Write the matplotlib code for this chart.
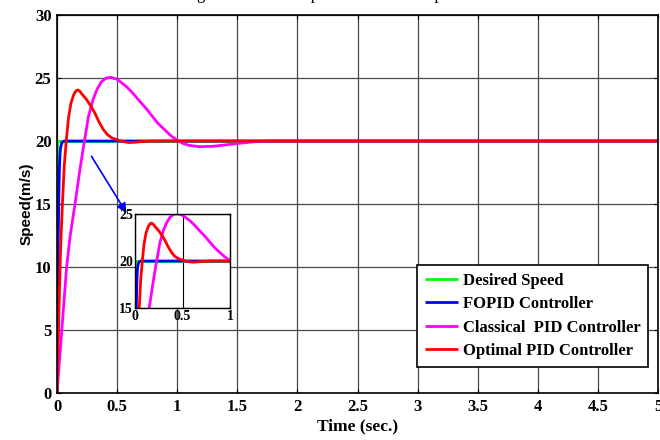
import matplotlib
matplotlib.use("Agg")
import matplotlib.pyplot as plt

# ---- data ----
desired_t = [0, 0, 5]
desired_v = [0, 20, 20]

fopid_t = [0, 0.005, 0.01, 0.015, 0.02, 0.025, 0.03, 0.04, 0.05, 0.06, 5.0]
fopid_v = [0, 6, 12, 15.5, 17.8, 19.0, 19.5, 19.85, 19.95, 20, 20]

classic_t = [0, 0.02, 0.04, 0.06, 0.08, 0.11, 0.15, 0.19, 0.228, 0.263, 0.3, 0.333, 0.37,
             0.41, 0.45, 0.5, 0.58, 0.63, 0.684, 0.74, 0.79, 0.84, 0.895, 0.95, 1.0, 1.05,
             1.1, 1.19, 1.3, 1.41, 1.52, 1.63, 1.75, 2.0, 5.0]
classic_v = [0, 2.5, 5, 7.5, 10, 12.5, 15, 17.7, 20, 22, 23.3, 24.1, 24.7,
             25.0, 25.05, 24.9, 24.3, 23.8, 23.2, 22.6, 22.0, 21.4, 20.9, 20.4, 20.05, 19.8,
             19.65, 19.55, 19.58, 19.7, 19.82, 19.93, 20.0, 20.0, 20.0]

optimal_t = [0, 0.01, 0.02, 0.03, 0.045, 0.06, 0.077, 0.095, 0.116, 0.14, 0.16, 0.175, 0.19,
             0.21, 0.245, 0.28, 0.316, 0.35, 0.386, 0.42, 0.456, 0.5, 0.55, 0.6, 0.65, 0.7,
             0.8, 1.0, 5.0]
optimal_v = [0, 4, 8, 11.5, 15, 18, 20, 21.8, 23.0, 23.7, 24.0, 24.05, 23.95,
             23.7, 23.3, 22.8, 22.2, 21.5, 20.9, 20.5, 20.25, 20.1, 19.95, 19.88, 19.9, 19.95,
             20.0, 20.0, 20.0]

labels = ["Desired Speed", "FOPID Controller", "Classical  PID Controller", "Optimal PID Controller"]
colors = ["#00ff00", "#0000ff", "#ff00ff", "#ff0000"]

x_ticks = [0, 0.5, 1, 1.5, 2, 2.5, 3, 3.5, 4, 4.5, 5]
x_ticklabels = ["0", "0.5", "1", "1.5", "2", "2.5", "3", "3.5", "4", "4.5", "5"]
y_ticks = [0, 5, 10, 15, 20, 25, 30]

inset_xticks = [0, 0.5, 1]
inset_xticklabels = ["0", "0.5", "1"]
inset_yticks = [15, 20, 25]

serif = "Liberation Serif"
sans = "Liberation Sans"

fig = plt.figure(figsize=(6.6, 4.4), dpi=100)
ax = fig.add_axes([57/660, 1 - 393/440, (658-57)/660, (393-15)/440])

series = [(desired_t, desired_v), (fopid_t, fopid_v), (classic_t, classic_v), (optimal_t, optimal_v)]
for (t, v), c, lab in zip(series, colors, labels):
    ax.plot(t, v, color=c, lw=2.0, label=lab, solid_capstyle="butt")

ax.set_xlim(0, 5)
ax.set_ylim(0, 30)
ax.set_xticks(x_ticks)
ax.set_xticklabels(x_ticklabels)
ax.set_yticks(y_ticks)
ax.grid(True, color="#4a4a4a", lw=0.9)
ax.tick_params(direction="in", length=3, top=True, right=True, width=0.8, pad=4)
for lab in ax.get_xticklabels() + ax.get_yticklabels():
    lab.set_fontfamily(serif)
    lab.set_fontweight("bold")
    lab.set_fontsize(12)
for s in ax.spines.values():
    s.set_linewidth(1.2)
    s.set_color("black")

ax.set_xlabel("Time (sec.)", fontfamily=serif, fontweight="bold", fontsize=12.5, labelpad=3)
ax.set_ylabel("Speed(m/s)", fontfamily=sans, fontweight="bold", fontsize=11, labelpad=1)

# cropped title (only descenders visible at top edge)
fig.text(146/660, 1 + 1.0/440, "Tracking of the desired speed controller response",
         fontfamily=serif, fontsize=12, ha="left", va="baseline")

leg = ax.legend(loc="upper left", bbox_to_anchor=(417/660, 1 - 265/440),
                bbox_transform=fig.transFigure, prop={"family": serif, "weight": "bold", "size": 12},
                frameon=True, fancybox=False, edgecolor="black", framealpha=1,
                handlelength=2.0, handletextpad=0.3, labelspacing=0.45, borderpad=0.45,
                borderaxespad=0)
leg.get_frame().set_linewidth(1.2)

# arrow to inset
ax.annotate("", xy=(0.59, 14.1), xytext=(0.275, 18.97),
            arrowprops=dict(arrowstyle="-|>", color="#0000ff", lw=1.2, mutation_scale=14))

# inset
ins = fig.add_axes([135/660, 1 - 307.7/440, 95/660, (307.7-214.3)/440])
for (t, v), c in zip(series, colors):
    ins.plot(t, v, color=c, lw=2.0, solid_capstyle="butt")
ins.set_xlim(0, 1)
ins.set_ylim(15, 25)
ins.set_xticks(inset_xticks)
ins.set_xticklabels(inset_xticklabels)
ins.set_yticks(inset_yticks)
ins.grid(True, color="black", lw=0.8)
ins.tick_params(direction="in", length=2.5, top=True, right=True, width=0.8, pad=1.5)
for lab in ins.get_xticklabels() + ins.get_yticklabels():
    lab.set_fontfamily(serif)
    lab.set_fontweight("bold")
    lab.set_fontsize(10)
for s in ins.spines.values():
    s.set_linewidth(1.0)

fig.savefig("out.png", dpi=100)
